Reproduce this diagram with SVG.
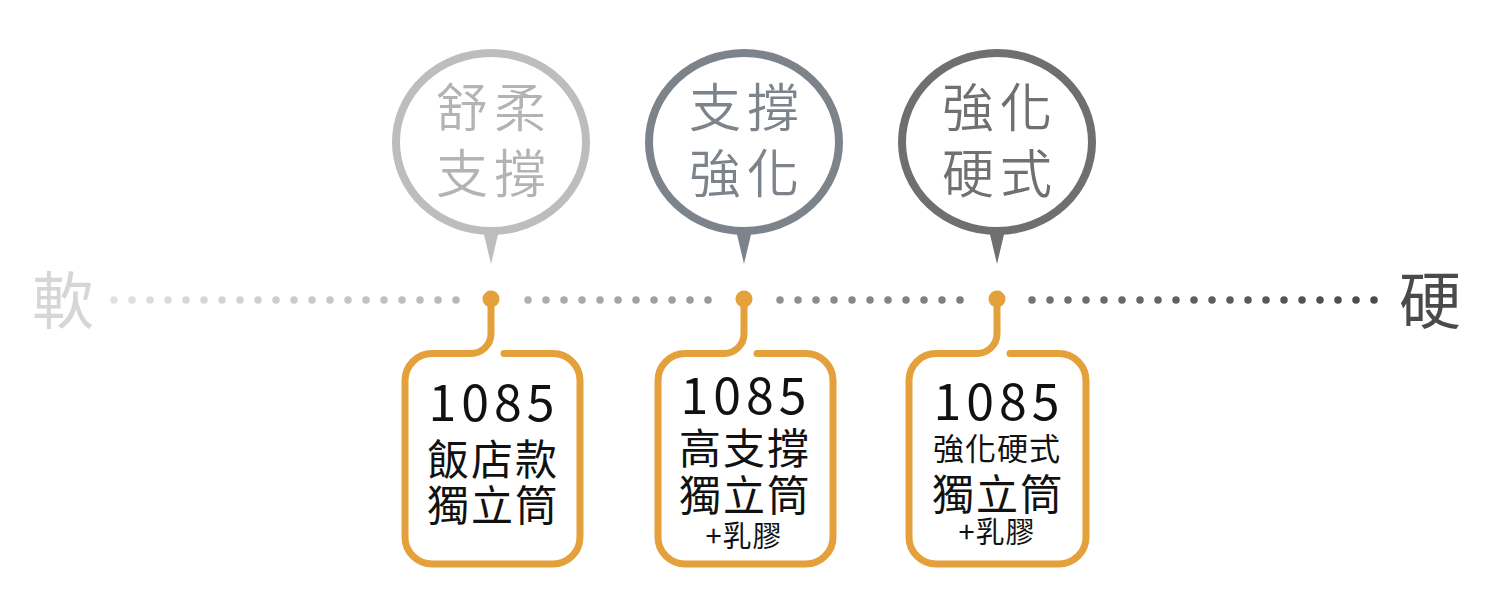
<svg xmlns="http://www.w3.org/2000/svg" width="1500" height="600" viewBox="0 0 1500 600">
<defs>
<style>
text{font-family:"Noto Sans CJK TC","Noto Sans CJK SC",sans-serif;text-anchor:middle}
.bt{font-size:52px;font-weight:350;letter-spacing:6px}
.ring{fill:#fff;stroke-width:8}
.box{fill:none;stroke:#e4a03a;stroke-width:7;stroke-linecap:round;stroke-linejoin:round}
.dot{fill:#e4a03a}
.num{font-size:50px;fill:#111;letter-spacing:5px}
.l40{font-size:42px;fill:#111;letter-spacing:2px}
.l30{font-size:31px;fill:#111;letter-spacing:1px}
.l26{font-size:29px;fill:#111;letter-spacing:1px}
.dl{fill:none;stroke:url(#g);stroke-width:7.5;stroke-linecap:round;stroke-dasharray:0 18}
</style>
<linearGradient id="g" gradientUnits="userSpaceOnUse" x1="114" y1="0" x2="1374" y2="0">
<stop offset="0" stop-color="#e0e0e0"/>
<stop offset="1" stop-color="#4a4a4a"/>
</linearGradient>
</defs>
<rect width="1500" height="600" fill="#fff"/>

<g id="axis-labels">
<text x="63" y="324" style="font-size:62px;fill:#d6d6d6">軟</text>
<text x="1430" y="324" style="font-size:62px;fill:#4a4a4a">硬</text>
</g>

<g id="connectors">
<path class="dl" d="M114,300 H457 M528,300 H709 M780,300 H961 M1032,300 H1375"/>
</g>

<g id="bubble1">
<polygon points="482,226 500,226 491,264" fill="#bdbdbd"/>
<ellipse class="ring" cx="491" cy="142" rx="95" ry="89" stroke="#bdbdbd"/>
<text class="bt" x="494" y="127" fill="#b3b3b3">舒柔</text>
<text class="bt" x="494" y="193" fill="#b3b3b3">支撐</text>
</g>

<g id="bubble2">
<polygon points="735,226 753,226 744,264" fill="#7d838b"/>
<ellipse class="ring" cx="744" cy="142" rx="95" ry="89" stroke="#7d838b"/>
<text class="bt" x="747" y="127" fill="#7d838b">支撐</text>
<text class="bt" x="747" y="193" fill="#7d838b">強化</text>
</g>

<g id="bubble3">
<polygon points="988,226 1006,226 997,264" fill="#6f6f6f"/>
<ellipse class="ring" cx="997" cy="142" rx="95" ry="89" stroke="#6f6f6f"/>
<text class="bt" x="1000" y="127" fill="#707070">強化</text>
<text class="bt" x="1000" y="193" fill="#707070">硬式</text>
</g>

<g id="box1">
<circle class="dot" cx="491" cy="299" r="8.5"/>
<path class="box" d="M504,353.5 H553 A27,27 0 0 1 580,380.5 V537 A27,27 0 0 1 553,564 H432 A27,27 0 0 1 405,537 V380.5 A27,27 0 0 1 432,353.5 H471 A20,20 0 0 0 491,333.5 V300"/>
<text class="num" x="494" y="421">1085</text>
<text class="l40" x="493" y="475">飯店款</text>
<text class="l40" x="493" y="521">獨立筒</text>
</g>

<g id="box2">
<circle class="dot" cx="744" cy="299" r="8.5"/>
<path class="box" d="M757,353.5 H806 A27,27 0 0 1 833,380.5 V537 A27,27 0 0 1 806,564 H685 A27,27 0 0 1 658,537 V380.5 A27,27 0 0 1 685,353.5 H724 A20,20 0 0 0 744,333.5 V300"/>
<text class="num" x="746" y="414">1085</text>
<text class="l40" x="745" y="464">高支撐</text>
<text class="l40" x="745" y="511">獨立筒</text>
<text class="l26" x="744" y="547">+乳膠</text>
</g>

<g id="box3">
<circle class="dot" cx="997" cy="299" r="8.5"/>
<path class="box" d="M1010,353.5 H1059 A27,27 0 0 1 1086,380.5 V537 A27,27 0 0 1 1059,564 H936 A27,27 0 0 1 909,537 V380.5 A27,27 0 0 1 936,353.5 H977 A20,20 0 0 0 997,333.5 V300"/>
<text class="num" x="999" y="420">1085</text>
<text class="l30" x="997" y="460">強化硬式</text>
<text class="l40" x="998" y="510">獨立筒</text>
<text class="l26" x="997" y="543">+乳膠</text>
</g>
</svg>
